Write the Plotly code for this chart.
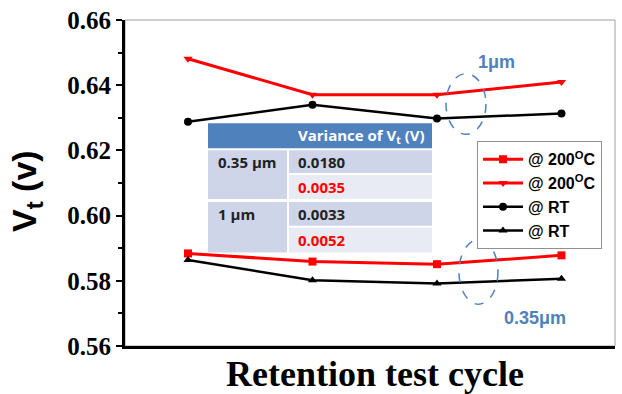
import plotly.graph_objects as go

cycles = [1, 2, 3, 4]
vt_200_sq = [0.5884, 0.5859, 0.5851, 0.5878]      # 0.35um @200C (square)
vt_200_tri = [0.6481, 0.6371, 0.6371, 0.6410]     # 1um @200C (down triangle)
vt_rt_circ = [0.6288, 0.6340, 0.6298, 0.6313]     # 1um @RT (circle)
vt_rt_tri = [0.5864, 0.5802, 0.5792, 0.5806]      # 0.35um @RT (up triangle)

y_ticks = [0.56, 0.58, 0.60, 0.62, 0.64, 0.66]
table_header = ["", "Variance of V<sub>t</sub> (V)"]
table_sizes = ["0.35 μm", "1 μm"]
table_values = ["0.0180", "0.0035", "0.0033", "0.0052"]
table_value_colors = ["#222222", "#FF0000", "#222222", "#FF0000"]

# pixel geometry of plot area
PX0, PX1, PY0, PY1 = 125, 615, 18, 346
def px(x):
    return (x - PX0) / (PX1 - PX0)
def py(y):
    return (PY1 - y) / (PY1 - PY0)

RED = "#FF0000"
BLUE = "#4F81BD"

fig = go.Figure()
fig.add_trace(go.Scatter(x=cycles, y=vt_200_sq, mode="lines+markers", name="@ 200<sup>O</sup>C",
                         line=dict(color=RED, width=3), marker=dict(symbol="square", size=8, color=RED)))
fig.add_trace(go.Scatter(x=cycles, y=vt_200_tri, mode="lines+markers", name="@ 200<sup>O</sup>C",
                         line=dict(color=RED, width=3), marker=dict(symbol="triangle-down", size=8, color=RED)))
fig.add_trace(go.Scatter(x=cycles, y=vt_rt_circ, mode="lines+markers", name="@ RT",
                         line=dict(color="black", width=2.5), marker=dict(symbol="circle", size=8, color="black")))
fig.add_trace(go.Scatter(x=cycles, y=vt_rt_tri, mode="lines+markers", name="@ RT",
                         line=dict(color="black", width=2.5), marker=dict(symbol="triangle-up", size=8, color="black")))

shapes = []
# gray frame (top/right)
shapes.append(dict(type="rect", xref="paper", yref="paper", x0=0, x1=1, y0=0, y1=1,
                   line=dict(color="#A0A0A0", width=1), layer="below"))

# table
def rect(x0, x1, y0, y1, color):
    shapes.append(dict(type="rect", xref="paper", yref="paper", x0=px(x0), x1=px(x1),
                       y0=py(y1), y1=py(y0), fillcolor=color, line=dict(width=0), layer="above"))
rect(208, 432, 122, 147, BLUE)
rect(208, 287, 149, 198, "#CFD5E8")
rect(208, 287, 201, 252, "#CFD5E8")
rows_y = [(149, 172), (174, 198), (201, 225), (227, 252)]
row_cols = ["#CFD5E8", "#E8EBF3", "#CFD5E8", "#E8EBF3"]
for (a, b), c in zip(rows_y, row_cols):
    rect(289, 432, a, b, c)

# ellipses (data coords)
def xd(p):
    return 1 + (p - 188) / 124.5
def yd(p):
    return 0.66 - (p - 18) / 3280
shapes.append(dict(type="circle", xref="x", yref="y", x0=xd(446), x1=xd(486), y0=yd(133), y1=yd(72),
                   line=dict(color=BLUE, width=1.5, dash="dash")))
shapes.append(dict(type="circle", xref="x", yref="y", x0=xd(459), x1=xd(498), y0=yd(304), y1=yd(239),
                   line=dict(color=BLUE, width=1.5, dash="dash")))

annotations = []
tf = dict(family="Open Sans", size=15, weight="bold")
def ann(x, y, text, font, xanchor="center", **kw):
    annotations.append(dict(xref="paper", yref="paper", x=px(x), y=py(y), xanchor=xanchor, yanchor="middle",
                            text=text, showarrow=False, font=font, **kw))
ann(296, 135, table_header[1], dict(tf, color="white"), xanchor="left")
for i, s in enumerate(table_sizes):
    ann(216, [161, 213][i], s, dict(tf, color="#222222"), xanchor="left")
for (a, b), v, c in zip(rows_y, table_values, table_value_colors):
    ann(296, (a + b) / 2, v, dict(tf, color=c), xanchor="left")
# ellipse labels
ann(496, 60, "1μm", dict(family="Liberation Sans", size=18, weight="bold", color=BLUE))
ann(535, 318, "0.35μm", dict(family="Liberation Sans", size=18, weight="bold", color=BLUE))
# axis titles
ann(375, 374, "Retention test cycle", dict(family="Liberation Serif", size=36, weight="bold", color="black"))
ann(27, 190, "V<sub>t</sub> (v)", dict(family="Liberation Sans", size=34, weight="bold", color="black"),
    textangle=-90)

fig.update_layout(
    width=622, height=394,
    margin=dict(l=PX0, r=622 - PX1, t=PY0, b=394 - PY1),
    paper_bgcolor="white", plot_bgcolor="white",
    showlegend=True,
    legend=dict(x=px(477), y=py(140), xanchor="left", yanchor="top", bgcolor="white",
                bordercolor="#909090", borderwidth=1,
                font=dict(family="Liberation Sans", size=16, weight="bold", color="black"),
                itemwidth=40, tracegroupgap=0),
    shapes=shapes, annotations=annotations,
    xaxis=dict(range=[0.494, 4.43], showticklabels=False, ticks="", showgrid=False, zeroline=False,
               showline=True, linecolor="black", linewidth=3),
    yaxis=dict(range=[0.56, 0.66], tickvals=y_ticks, ticktext=["%.2f" % v for v in y_ticks],
               ticks="outside", ticklen=6, tickwidth=2, tickcolor="black",
               minor=dict(dtick=0.01, ticks="outside", ticklen=4, tickwidth=2, tickcolor="black"),
               showgrid=False, zeroline=False, showline=True, linecolor="black", linewidth=3,
               tickfont=dict(family="Liberation Serif", size=25, weight="bold", color="black")),
)

fig.write_html("out.html")
